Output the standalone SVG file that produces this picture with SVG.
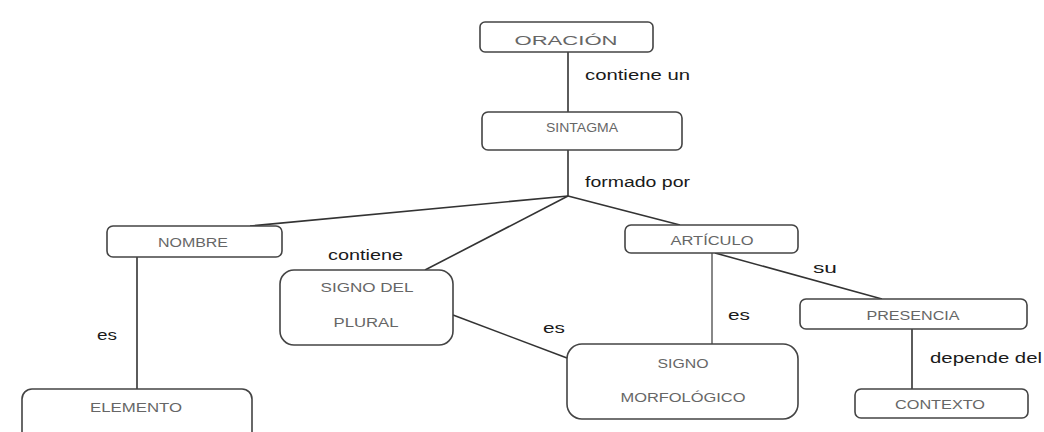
<svg xmlns="http://www.w3.org/2000/svg" width="1044" height="432" viewBox="0 0 1044 432">
<style>
.box{fill:#fff;stroke:#444;stroke-width:1.6}
.nt{font-family:"Liberation Sans",Arial,sans-serif;font-size:12px;fill:#666;text-anchor:middle}
.lb{font-family:"Liberation Sans",Arial,sans-serif;font-size:14px;fill:#1a1a1a}
.cn{stroke:#333;stroke-width:1.6;fill:none}
</style>
<rect width="1044" height="432" fill="#fff"/>
<g id="connectors">
<line class="cn" x1="568" y1="52" x2="568" y2="112"/>
<line class="cn" x1="568" y1="150" x2="568" y2="196"/>
<line class="cn" x1="568" y1="196" x2="250" y2="226"/>
<line class="cn" x1="568" y1="196" x2="425" y2="270"/>
<line class="cn" x1="568" y1="196" x2="680" y2="225"/>
<line class="cn" x1="137" y1="257" x2="137" y2="389"/>
<line class="cn" x1="453" y1="315" x2="567" y2="358"/>
<line class="cn" x1="715" y1="253" x2="882" y2="299"/>
<line x1="712" y1="253" x2="712" y2="344" stroke="#888" stroke-width="2"/>
<line class="cn" x1="912" y1="329" x2="912" y2="389"/>
<text class="lb" x="585" y="80" textLength="105" lengthAdjust="spacingAndGlyphs">contiene un</text>
<text class="lb" x="585" y="187" textLength="105" lengthAdjust="spacingAndGlyphs">formado por</text>
<text class="lb" x="328" y="260" textLength="75" lengthAdjust="spacingAndGlyphs">contiene</text>
<text class="lb" x="97" y="340" textLength="20" lengthAdjust="spacingAndGlyphs">es</text>
<text class="lb" x="543" y="333" textLength="22" lengthAdjust="spacingAndGlyphs">es</text>
<text class="lb" x="728" y="320" textLength="22" lengthAdjust="spacingAndGlyphs">es</text>
<text class="lb" x="813" y="273" textLength="24" lengthAdjust="spacingAndGlyphs">su</text>
<text class="lb" x="930" y="363" textLength="112" lengthAdjust="spacingAndGlyphs">depende del</text>
</g>
<g id="oracion">
<rect class="box" x="480" y="22" width="173" height="30" rx="5"/>
<text class="nt" x="566" y="45" font-size="14" textLength="103" lengthAdjust="spacingAndGlyphs">ORACIÓN</text>
</g>
<g id="sintagma">
<rect class="box" x="482" y="112" width="200" height="38" rx="6"/>
<text class="nt" x="582" y="132" font-size="10" textLength="72" lengthAdjust="spacingAndGlyphs">SINTAGMA</text>
</g>
<g id="nombre">
<rect class="box" x="107" y="226" width="175" height="31" rx="6"/>
<text class="nt" x="193" y="247" textLength="70" lengthAdjust="spacingAndGlyphs">NOMBRE</text>
</g>
<g id="signo-plural">
<rect class="box" x="280" y="270" width="173" height="75" rx="14"/>
<text class="nt" x="367" y="292" textLength="93" lengthAdjust="spacingAndGlyphs">SIGNO DEL</text>
<text class="nt" x="366" y="327" textLength="65" lengthAdjust="spacingAndGlyphs">PLURAL</text>
</g>
<g id="articulo">
<rect class="box" x="625" y="225" width="173" height="28" rx="6"/>
<text class="nt" x="712" y="245" textLength="83" lengthAdjust="spacingAndGlyphs">ARTÍCULO</text>
</g>
<g id="presencia">
<rect class="box" x="800" y="299" width="227" height="30" rx="6"/>
<text class="nt" x="913" y="320" textLength="93" lengthAdjust="spacingAndGlyphs">PRESENCIA</text>
</g>
<g id="elemento">
<rect class="box" x="22" y="389" width="230" height="60" rx="10"/>
<text class="nt" x="136" y="412" textLength="92" lengthAdjust="spacingAndGlyphs">ELEMENTO</text>
</g>
<g id="signo-morfologico">
<rect class="box" x="567" y="344" width="231" height="75" rx="15"/>
<text class="nt" x="683" y="368" textLength="51" lengthAdjust="spacingAndGlyphs">SIGNO</text>
<text class="nt" x="683" y="402" textLength="125" lengthAdjust="spacingAndGlyphs">MORFOLÓGICO</text>
</g>
<g id="contexto">
<rect class="box" x="855" y="389" width="173" height="29" rx="6"/>
<text class="nt" x="940" y="409" textLength="90" lengthAdjust="spacingAndGlyphs">CONTEXTO</text>
</g>
</svg>
